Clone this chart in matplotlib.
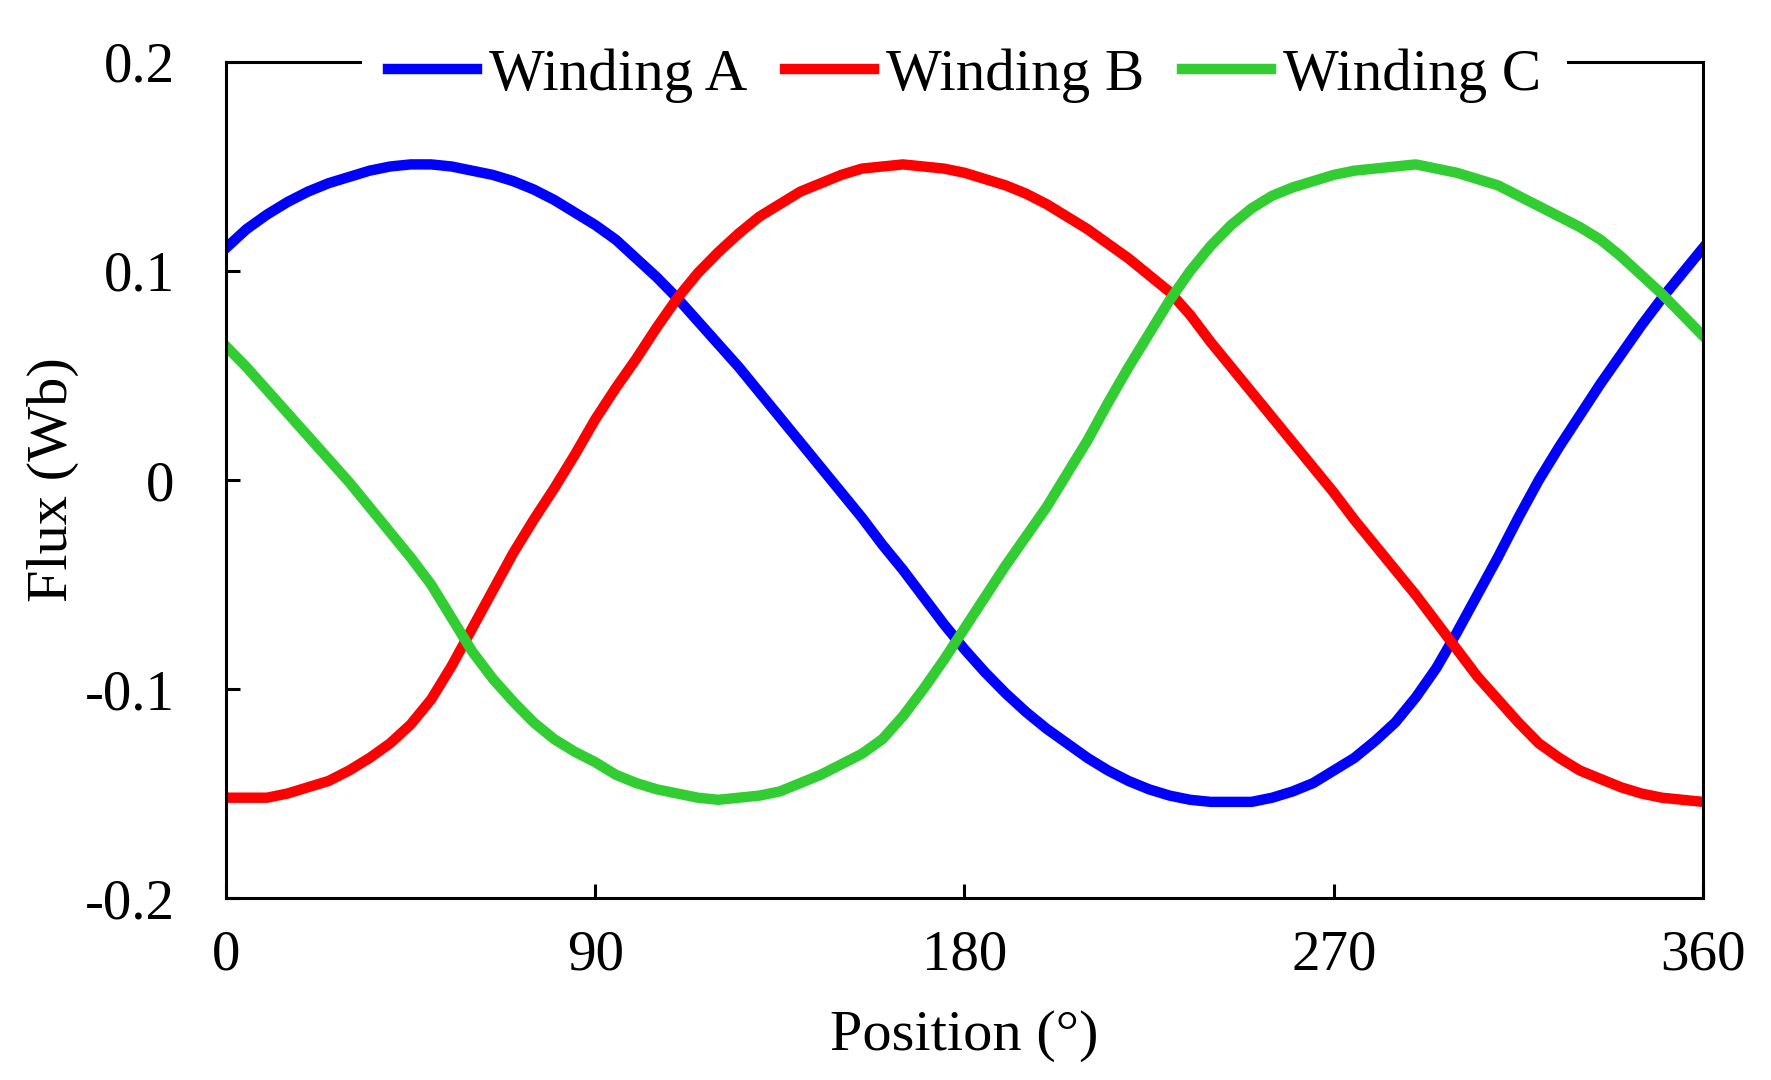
import matplotlib
matplotlib.use("Agg")
import matplotlib.pyplot as plt
import numpy as np

plt.rcParams['font.family'] = ['Liberation Serif', 'DejaVu Serif']

# rotor position (deg), 5 deg steps
position = list(range(0, 361, 5))

# flux linkage (Wb)
winding_a = [0.111, 0.120, 0.127, 0.133, 0.138, 0.142, 0.145, 0.148, 0.150, 0.151,
             0.151, 0.150, 0.148, 0.146, 0.143, 0.139, 0.134, 0.128, 0.122, 0.115,
             0.106, 0.097, 0.087, 0.076, 0.065, 0.054, 0.042, 0.030, 0.018, 0.006,
             -0.006, -0.018, -0.031, -0.043, -0.056, -0.069, -0.081, -0.092, -0.102, -0.111,
             -0.119, -0.126, -0.133, -0.139, -0.144, -0.148, -0.151, -0.153, -0.154, -0.154,
             -0.154, -0.152, -0.149, -0.145, -0.139, -0.133, -0.125, -0.116, -0.104, -0.090,
             -0.073, -0.055, -0.037, -0.018, 0.000, 0.016, 0.031, 0.046, 0.060, 0.074,
             0.087, 0.099, 0.111]
winding_b = [-0.152, -0.152, -0.152, -0.150, -0.147, -0.144, -0.139, -0.133, -0.126, -0.117,
             -0.105, -0.089, -0.071, -0.053, -0.035, -0.019, -0.004, 0.012, 0.029, 0.044,
             0.058, 0.073, 0.087, 0.099, 0.109, 0.118, 0.126, 0.132, 0.138, 0.142,
             0.146, 0.149, 0.150, 0.151, 0.150, 0.149, 0.147, 0.144, 0.141, 0.137,
             0.132, 0.126, 0.120, 0.113, 0.106, 0.098, 0.090, 0.079, 0.066, 0.054,
             0.042, 0.030, 0.018, 0.006, -0.006, -0.019, -0.031, -0.043, -0.055, -0.068,
             -0.081, -0.094, -0.105, -0.116, -0.126, -0.133, -0.139, -0.143, -0.147, -0.150,
             -0.152, -0.153, -0.154]
winding_c = [0.064, 0.054, 0.043, 0.032, 0.021, 0.010, -0.001, -0.013, -0.025, -0.037,
             -0.050, -0.066, -0.082, -0.095, -0.106, -0.116, -0.124, -0.130, -0.135, -0.141,
             -0.145, -0.148, -0.150, -0.152, -0.153, -0.152, -0.151, -0.149, -0.145, -0.141,
             -0.136, -0.131, -0.124, -0.113, -0.100, -0.086, -0.071, -0.056, -0.041, -0.027,
             -0.013, 0.003, 0.019, 0.037, 0.054, 0.070, 0.086, 0.100, 0.112, 0.122,
             0.130, 0.136, 0.140, 0.143, 0.146, 0.148, 0.149, 0.150, 0.151, 0.149,
             0.147, 0.144, 0.141, 0.136, 0.131, 0.126, 0.121, 0.115, 0.107, 0.098,
             0.089, 0.079, 0.069]

fig = plt.figure(figsize=(17.71, 10.80), dpi=100)
ax = fig.add_axes([0.1276, 0.1685, 0.8340, 0.7741])

lw = 7.5
ax.plot(position, winding_a, color='#0000ff', lw=lw, label='Winding A', solid_joinstyle='round')
ax.plot(position, winding_b, color='#ff0000', lw=lw, label='Winding B', solid_joinstyle='round')
ax.plot(position, winding_c, color='#32cd32', lw=lw, label='Winding C', solid_joinstyle='round')

ax.set_xlim(0, 360)
ax.set_ylim(-0.2, 0.2)
ax.set_xticks([0, 90, 180, 270, 360])
ax.set_yticks([-0.2, -0.1, 0, 0.1, 0.2])
ax.set_yticklabels(['-0.2', '-0.1', '0', '0.1', '0.2'])

for s in ax.spines.values():
    s.set_linewidth(2.2)
ax.tick_params(axis='both', direction='in', length=10, width=2.2, labelsize=41)
ax.tick_params(axis='x', pad=23)
ax.tick_params(axis='y', pad=37)

ax.set_xlabel('Position (°)', fontsize=42, labelpad=20)
ax.set_ylabel('Flux (Wb)', fontsize=42, labelpad=4)

leg = ax.legend(loc='center', bbox_to_anchor=(0.5, 0.984), ncol=3, fontsize=42.5,
                frameon=True, fancybox=False, framealpha=1, facecolor='white',
                edgecolor='none', handlelength=1.5, handletextpad=0.2,
                columnspacing=0.65, borderpad=0.45, borderaxespad=0)
for h in leg.legend_handles:
    h.set_linewidth(7.5)

fig.savefig('out.png', dpi=100)
